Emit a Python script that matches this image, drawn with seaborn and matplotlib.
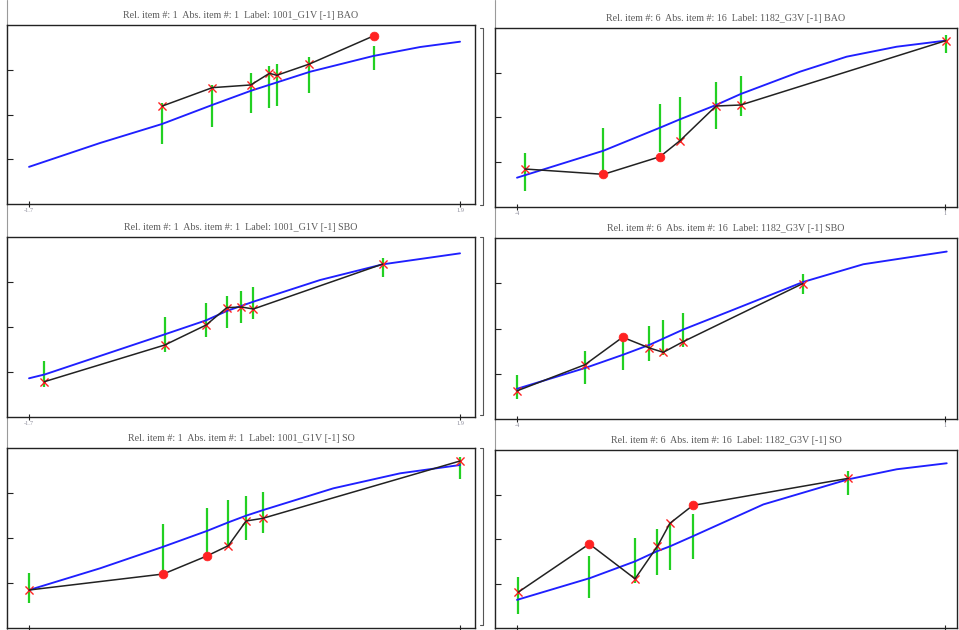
import matplotlib
matplotlib.use("Agg")
import matplotlib.pyplot as plt
import seaborn as sns
import pandas as pd
from matplotlib.lines import Line2D

sns.set_theme(style="white")
plt.rcParams["font.family"] = ["Liberation Serif", "DejaVu Serif"]

BLUE = "#1f1fff"
GREEN = "#22d022"
RED = "#ff2222"
BLACK = "#222222"

# ---------------- 1001_G1V  BAO ----------------
g1001_bao_fit_x = [-1.70, -1.107, -0.589, -0.171, 0.155, 0.648, 1.174, 1.567, 1.90]
g1001_bao_fit_y = [0.83, 1.363, 1.788, 2.212, 2.532, 2.956, 3.307, 3.508, 3.627]
g1001_bao_obs_x = [-0.586, -0.169, 0.152, 0.308, 0.369, 0.642, 1.182]
g1001_bao_obs_y = [2.19, 2.60, 2.66, 2.92, 2.876, 3.128, 3.761]
g1001_bao_lo = [1.341, 1.714, 2.04, 2.138, 2.196, 2.487, 2.994]
g1001_bao_hi = [2.248, 2.659, 2.92, 3.084, 3.128, 3.29, 3.53]

# ---------------- 1182_G3V  BAO ----------------
g1182_bao_fit_x = [-4.0, -2.99, -2.33, -2.096, -1.675, -1.387, -0.694, -0.149, 0.436, 1.0]
g1182_bao_fit_y = [0.655, 1.258, 1.772, 1.96, 2.279, 2.525, 3.024, 3.359, 3.582, 3.716]
g1182_bao_obs_x = [-3.907, -2.99, -2.33, -2.096, -1.675, -1.387, 1.008]
g1182_bao_obs_y = [0.849, 0.73, 1.124, 1.482, 2.257, 2.279, 3.716]
g1182_bao_lo = [0.364, 0.76, 1.236, 1.423, 1.736, 2.04, 3.448]
g1182_bao_hi = [1.20, 1.758, 2.295, 2.465, 2.80, 2.927, 3.844]

# ---------------- 1001_G1V  SBO ----------------
g1001_sbo_fit_x = [-1.70, -1.566, -0.558, -0.221, -0.048, 0.174, 0.731, 1.255, 1.90]
g1001_sbo_fit_y = [0.86, 0.948, 1.844, 2.148, 2.356, 2.563, 3.044, 3.393, 3.637]
g1001_sbo_obs_x = [-1.572, -0.566, -0.221, -0.048, 0.074, 0.174, 1.255]
g1001_sbo_obs_y = [0.785, 1.60, 2.044, 2.43, 2.444, 2.40, 3.40]
g1001_sbo_lo = [0.673, 1.451, 1.785, 1.97, 2.081, 2.178, 3.118]
g1001_sbo_hi = [1.251, 2.229, 2.526, 2.689, 2.80, 2.896, 3.54]

# ---------------- 1182_G3V  SBO ----------------
g1182_sbo_fit_x = [-4.0, -3.206, -2.758, -2.446, -2.057, -1.512, -0.655, 0.046, 1.02]
g1182_sbo_fit_y = [0.667, 1.126, 1.422, 1.644, 1.978, 2.385, 3.03, 3.42, 3.70]
g1182_sbo_obs_x = [-4.0, -3.206, -2.766, -2.454, -2.291, -2.064, -0.662]
g1182_sbo_obs_y = [0.622, 1.20, 1.807, 1.57, 1.474, 1.704, 2.993]
g1182_sbo_lo = [0.444, 0.778, 1.074, 1.274, 1.422, 1.585, 2.756]
g1182_sbo_hi = [0.978, 1.496, 1.778, 2.052, 2.178, 2.333, 3.215]

# ---------------- 1001_G1V  SO ----------------
g1001_so_fit_x = [-1.70, -1.107, -0.578, -0.215, -0.035, 0.113, 0.257, 0.842, 1.399, 1.90]
g1001_so_fit_y = [0.844, 1.326, 1.807, 2.156, 2.348, 2.496, 2.622, 3.104, 3.437, 3.622]
g1001_so_obs_x = [-1.70, -0.578, -0.215, -0.035, 0.113, 0.252, 1.90]
g1001_so_obs_y = [0.844, 1.20, 1.60, 1.83, 2.378, 2.437, 3.711]
g1001_so_lo = [0.548, 1.274, 1.659, 1.80, 1.956, 2.104, 3.304]
g1001_so_hi = [1.23, 2.311, 2.659, 2.844, 2.933, 3.03, 3.807]

# ---------------- 1182_G3V  SO ----------------
g1182_so_fit_x = [-4.0, -3.147, -2.621, -2.368, -2.213, -1.947, -1.122, -0.13, 0.436, 1.02]
g1182_so_fit_y = [0.632, 1.122, 1.497, 1.722, 1.835, 2.061, 2.777, 3.341, 3.567, 3.702]
g1182_so_obs_x = [-3.985, -3.155, -2.621, -2.36, -2.213, -1.947, -0.13]
g1182_so_obs_y = [0.806, 1.889, 1.106, 1.835, 2.354, 2.754, 3.363]
g1182_so_lo = [0.309, 0.670, 1.009, 1.196, 1.293, 1.551, 2.98]
g1182_so_hi = [1.135, 1.625, 2.025, 2.235, 2.377, 2.551, 3.528]

left_ticks = [-1.7, 1.9]
left_ticklabels = ["-1.7", "1.9"]
right_ticks = [-4, 1]
right_ticklabels = ["-4", "1"]

W, H = 959, 630
fig = plt.figure(figsize=(W / 100, H / 100), dpi=100)


def frac_box(x0, y0, x1, y1):
    """Pixel box (top-left origin) -> figure-fraction rect."""
    return [x0 / W, 1 - y1 / H, (x1 - x0) / W, (y1 - y0) / H]


def draw_panel(rect, fit_x, fit_y, obs_x, obs_y, lo, hi, xlim, ticks, ticklabels,
               title, show_xlabels=True):
    ax = fig.add_axes(rect)
    fit = pd.DataFrame({"x": fit_x, "y": fit_y})
    obs = pd.DataFrame({"x": obs_x, "y": obs_y, "lo": lo, "hi": hi})
    outside = (obs["y"] < obs["lo"]) | (obs["y"] > obs["hi"])

    ax.vlines(obs["x"], obs["lo"], obs["hi"], color=GREEN, lw=1.6, zorder=2)
    sns.lineplot(data=fit, x="x", y="y", ax=ax, color=BLUE, lw=1.35,
                 sort=False, estimator=None, zorder=3)
    sns.scatterplot(data=obs[~outside], x="x", y="y", ax=ax, marker="x",
                    color=RED, s=34, linewidth=1.0, zorder=4)
    sns.lineplot(data=obs, x="x", y="y", ax=ax, color=BLACK, lw=1.1,
                 sort=False, estimator=None, zorder=5)
    sns.scatterplot(data=obs[outside], x="x", y="y", ax=ax, marker="o",
                    color=RED, edgecolor=RED, s=40, zorder=6)

    ax.set_xlim(*xlim)
    ax.set_ylim(0, 4)
    ax.set_xticks(ticks)
    ax.set_xticklabels(ticklabels if show_xlabels else [])
    ax.set_yticks([1, 2, 3])
    ax.set_yticklabels([])
    ax.set_xlabel("")
    ax.set_ylabel("")
    ax.tick_params(axis="y", direction="in", length=4, width=0.8, color=BLACK, left=True)
    ax.tick_params(axis="x", direction="inout", length=4, width=0.8, color=BLACK,
                   bottom=True, labelsize=4.5, labelcolor="#8a8a99", pad=1)
    for sp in ax.spines.values():
        sp.set_color(BLACK)
        sp.set_linewidth(1.0)
    ax.set_title(title, fontsize=7.2, color="#5a5a5a", pad=5)
    return ax


LEFT_X = (-1.884, 2.025)
RIGHT_X = (-4.257, 1.14)

draw_panel(frac_box(7, 25, 475, 204), g1001_bao_fit_x, g1001_bao_fit_y,
           g1001_bao_obs_x, g1001_bao_obs_y, g1001_bao_lo, g1001_bao_hi,
           LEFT_X, left_ticks, left_ticklabels,
           "Rel. item #: 1  Abs. item #: 1  Label: 1001_G1V [-1] BAO")
draw_panel(frac_box(495, 28, 957, 207), g1182_bao_fit_x, g1182_bao_fit_y,
           g1182_bao_obs_x, g1182_bao_obs_y, g1182_bao_lo, g1182_bao_hi,
           RIGHT_X, right_ticks, right_ticklabels,
           "Rel. item #: 6  Abs. item #: 16  Label: 1182_G3V [-1] BAO")
draw_panel(frac_box(7, 237, 475, 417), g1001_sbo_fit_x, g1001_sbo_fit_y,
           g1001_sbo_obs_x, g1001_sbo_obs_y, g1001_sbo_lo, g1001_sbo_hi,
           LEFT_X, left_ticks, left_ticklabels,
           "Rel. item #: 1  Abs. item #: 1  Label: 1001_G1V [-1] SBO")
draw_panel(frac_box(495, 238, 957, 419), g1182_sbo_fit_x, g1182_sbo_fit_y,
           g1182_sbo_obs_x, g1182_sbo_obs_y, g1182_sbo_lo, g1182_sbo_hi,
           RIGHT_X, right_ticks, right_ticklabels,
           "Rel. item #: 6  Abs. item #: 16  Label: 1182_G3V [-1] SBO")
# bottom row: the tick labels fall below the lower edge of the canvas
draw_panel(frac_box(7, 448, 475, 628), g1001_so_fit_x, g1001_so_fit_y,
           g1001_so_obs_x, g1001_so_obs_y, g1001_so_lo, g1001_so_hi,
           LEFT_X, left_ticks, left_ticklabels,
           "Rel. item #: 1  Abs. item #: 1  Label: 1001_G1V [-1] SO", show_xlabels=False)
draw_panel(frac_box(495, 450, 957, 628), g1182_so_fit_x, g1182_so_fit_y,
           g1182_so_obs_x, g1182_so_obs_y, g1182_so_lo, g1182_so_hi,
           RIGHT_X, right_ticks, right_ticklabels,
           "Rel. item #: 6  Abs. item #: 16  Label: 1182_G3V [-1] SO", show_xlabels=False)

# thin window frame lines around the panels
frame = "#9a9a9a"
for xp in (7, 495):
    fig.add_artist(Line2D([xp / W, xp / W], [0, 1], color=frame, lw=0.8, zorder=0))
for y0, y1 in ((28, 205), (237, 415), (448, 625)):
    fig.add_artist(Line2D([483 / W, 483 / W], [1 - y0 / H, 1 - y1 / H],
                          color="#555555", lw=0.8))
    fig.add_artist(Line2D([480 / W, 483 / W], [1 - y0 / H, 1 - y0 / H],
                          color="#555555", lw=0.8))
    fig.add_artist(Line2D([480 / W, 483 / W], [1 - y1 / H, 1 - y1 / H],
                          color="#555555", lw=0.8))

fig.savefig("out.png", dpi=100, facecolor="white")
